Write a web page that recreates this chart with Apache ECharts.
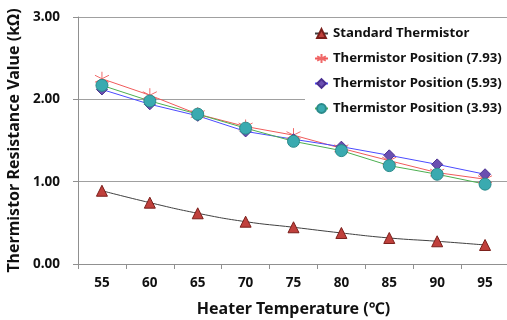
<!DOCTYPE html>
<html><head><meta charset="utf-8">
<script src="https://cdn.jsdelivr.net/npm/echarts@6/dist/echarts.min.js"></script>
<style>html,body{margin:0;padding:0;background:#fff}#c{width:507px;height:320px}</style>
</head><body><div id="c"></div>
<script>
var categories = ['55','60','65','70','75','80','85','90','95'];
var standard = [0.89, 0.745, 0.616, 0.514, 0.446, 0.377, 0.316, 0.276, 0.231];
var pos793 = [2.25, 2.05, 1.82, 1.67, 1.565, 1.405, 1.255, 1.11, 1.03];
var pos593 = [2.12, 1.94, 1.80, 1.61, 1.515, 1.425, 1.32, 1.21, 1.09];
var pos393 = [2.17, 1.98, 1.82, 1.65, 1.49, 1.377, 1.195, 1.09, 0.97];
var yTicks = [0, 1, 2, 3];

var FONT = '"Noto Sans", sans-serif';
var chart = echarts.init(document.getElementById('c'));
var star = 'path://M0,-10L0,10M-8.66,-5L8.66,5M-8.66,5L8.66,-5';
chart.setOption({
  animation: false,
  textStyle: {fontFamily: FONT},
  grid: {left: 78, right: -2, top: 17, bottom: 56, containLabel: false, outerBoundsMode: 'none'},
  legend: {
    orient: 'vertical', left: 305, top: 23, itemGap: 12,
    itemWidth: 13, itemHeight: 11,
    backgroundColor: '#fff', padding: [4, 10, 4, 9],
    textStyle: {fontFamily: FONT, fontWeight: 'bold', fontSize: 13.2, color: '#111'},
    data: ['Standard Thermistor','Thermistor Position (7.93)','Thermistor Position (5.93)','Thermistor Position (3.93)']
  },
  xAxis: {
    type: 'category', data: categories, boundaryGap: true,
    name: 'Heater Temperature (\u2103)', nameLocation: 'middle', nameGap: 37,
    nameTextStyle: {fontFamily: FONT, fontWeight: 'bold', fontSize: 16, color: '#111'},
    axisLine: {lineStyle: {color: '#909090'}},
    axisTick: {show: true, length: 5, lineStyle: {color: '#909090'}},
    axisLabel: {fontFamily: FONT, fontWeight: 'bold', fontSize: 13.5, color: '#111', margin: 12}
  },
  yAxis: {
    type: 'value', min: yTicks[0], max: yTicks[yTicks.length-1], interval: 1,
    name: 'Thermistor Resistance Value (k\u03A9)', nameLocation: 'middle', nameGap: 56, nameRotate: 90,
    nameTextStyle: {fontFamily: FONT, fontWeight: 'bold', fontSize: 16, color: '#111'},
    axisLine: {show: true, lineStyle: {color: '#909090'}},
    axisTick: {show: true, length: 5, lineStyle: {color: '#909090'}},
    splitLine: {lineStyle: {color: '#a0a0a0'}},
    axisLabel: {fontFamily: FONT, fontWeight: 'bold', fontSize: 13.5, color: '#111', margin: 18,
      formatter: function(v){return v.toFixed(2);}}
  },
  series: [
    {name: 'Standard Thermistor', type: 'line', data: standard, smooth: true,
     symbol: 'triangle', symbolSize: 11,
     lineStyle: {color: '#404040', width: 1},
     itemStyle: {color: '#c0403c', borderColor: '#7a1e1a', borderWidth: 1}},
    {name: 'Thermistor Position (7.93)', type: 'line', data: pos793,
     symbol: star, symbolSize: 14,
     lineStyle: {color: '#f05a5a', width: 1},
     itemStyle: {color: 'rgba(0,0,0,0)', borderColor: '#f06a6a', borderWidth: 1}},
    {name: 'Thermistor Position (5.93)', type: 'line', data: pos593,
     symbol: 'diamond', symbolSize: 11,
     lineStyle: {color: '#4b4bff', width: 1},
     itemStyle: {color: '#6a4fb0', borderColor: '#4a2f90', borderWidth: 1}},
    {name: 'Thermistor Position (3.93)', type: 'line', data: pos393,
     symbol: 'circle', symbolSize: 12,
     lineStyle: {color: '#4caf50', width: 1},
     itemStyle: {color: '#3aaab0', borderColor: '#2a8a8a', borderWidth: 1}}
  ]
});
</script></body></html>
